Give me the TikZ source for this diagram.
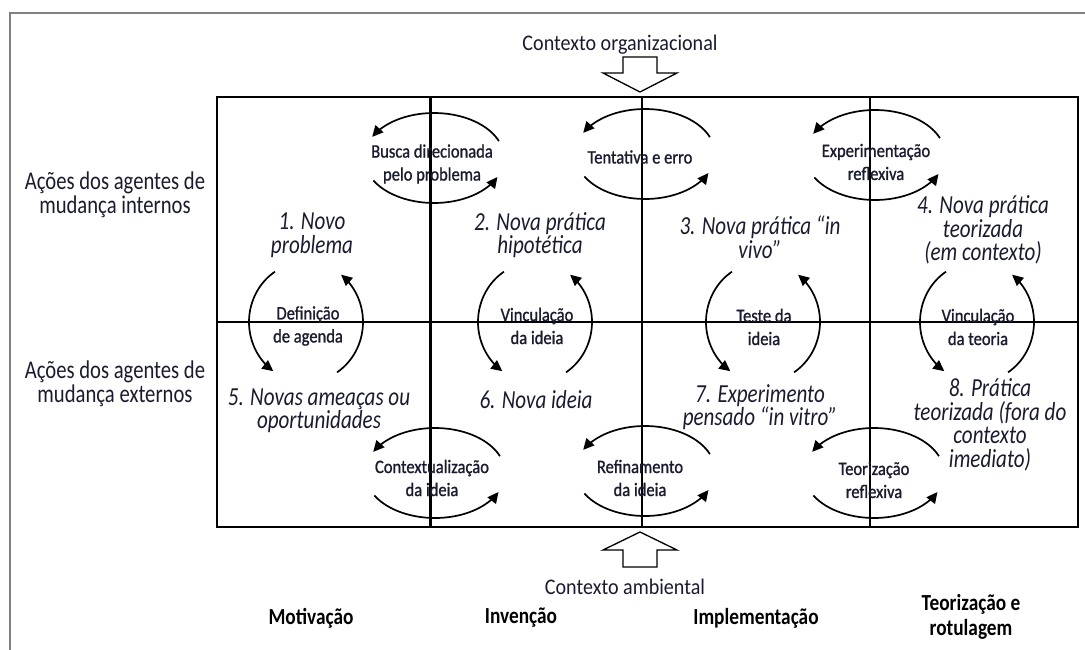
\documentclass[tikz,border=0pt]{standalone}
\usepackage{fontspec}
\setmainfont{Carlito}
\newfontfamily\statefont[FakeStretch=0.81]{Carlito}
\newfontfamily\rowfont[FakeStretch=0.81]{Carlito}
\newfontfamily\ctxfont[FakeStretch=0.9]{Carlito}
\newfontfamily\phasefont[FakeStretch=0.84]{Carlito}
\newfontfamily\labelfont[FakeStretch=0.87,FakeBold=1.1]{Carlito}
\usetikzlibrary{arrows.meta}
\definecolor{ink}{HTML}{1B1B2F}
\definecolor{framegray}{HTML}{808080}

\tikzset{
  state/.style={font=\statefont\itshape\fontsize{26}{23.5}\selectfont, text=ink, align=center, inner sep=0pt},
  steplabel/.style={font=\labelfont\fontsize{19}{23}\selectfont, text=ink, align=center, inner sep=0pt},
  rowlabel/.style={font=\rowfont\fontsize{25.5}{24}\selectfont, text=ink, align=center, inner sep=0pt},
  ctxlabel/.style={font=\ctxfont\fontsize{22.3}{22}\selectfont, text=ink, inner sep=0pt},
  phase/.style={font=\phasefont\bfseries\fontsize{23}{25}\selectfont, text=black, align=center, inner sep=0pt},
  cyclearrow/.style={line width=1.7pt, -{Triangle[length=11pt,width=10.5pt]}},
  blockarrow/.style={draw=black, line width=1.3pt, fill=white, line join=miter},
  gridline/.style={draw=black, line width=#1},
}

% horizontal cycle (two arcs across a vertical grid line)
\newcommand{\hcycle}[2]{%
  \draw[cyclearrow] plot[domain=22:152,samples=40] ({#1+70*cos(\x)},{#2-45*sin(\x)});
  \draw[cyclearrow] plot[domain=210:335,samples=40] ({#1+70*cos(\x)},{#2-45*sin(\x)});
}
% vertical cycle (two arcs across the horizontal grid line)
\newcommand{\vcycle}[2]{%
  \draw[cyclearrow] plot[domain=123:235,samples=40] ({#1+57*cos(\x)},{#2-60*sin(\x)});
  \draw[cyclearrow] plot[domain=-57:52,samples=40] ({#1+57*cos(\x)},{#2-60*sin(\x)});
}

\begin{document}
\begin{tikzpicture}[x=1pt,y=-1pt]
\useasboundingbox (0,0) rectangle (1085,650);

% outer frame
\draw[framegray, line width=1.5pt] (10,650) -- (10,13) -- (1085,13);

% grid
\draw[gridline=2.3pt] (217,97) rectangle (1078,527);
\draw[gridline=2pt] (217,322) -- (1078,322);
\draw[gridline=3pt] (430,97) -- (430,527);
\draw[gridline=1.8pt] (642,97) -- (642,527);
\draw[gridline=2.7pt] (870,97) -- (870,527);

% context arrows
\draw[blockarrow] (623,57) -- (657,57) -- (657,73) -- (677,73) -- (640,92) -- (603,73) -- (623,73) -- cycle;
\draw[blockarrow] (640,532) -- (677,550) -- (657,550) -- (657,567) -- (623,567) -- (623,550) -- (603,550) -- cycle;

\node[ctxlabel] (orgctx) at (620,45) {Contexto organizacional};
\node[ctxlabel] (envctx) at (625,587) {Contexto ambiental};

% row labels
\node[rowlabel] (internal) at (115,195) {Ações dos agentes de\\mudança internos};
\node[rowlabel] (external) at (115,384) {Ações dos agentes de\\mudança externos};

% phase labels
\node[phase] (motiv) at (311,618) {Motivação};
\node[phase] (invent) at (521,618) {Invenção};
\node[phase] (implem) at (756,618) {Implementação};
\node[phase] (theory) at (971,617) {Teorização e\\rotulagem};

% cycles
\hcycle{434}{158}
\hcycle{645}{154}
\hcycle{875}{155}
\hcycle{435}{473}
\hcycle{645}{471}
\hcycle{874}{473}
\vcycle{306}{322}
\vcycle{535}{322}
\vcycle{763}{322}
\vcycle{977}{322}

% states
\node[state] (s1) at (312,235) {1. Novo\\problema};
\node[state] (s2) at (540,235) {2. Nova prática\\hipotética};
\node[state] (s3) at (760,237) {3. Nova prática “in\\vivo”};
\node[state] (s4) at (983,230) {4. Nova prática\\teorizada\\(em contexto)};
\node[state] (s5) at (319,411) {5. Novas ameaças ou\\oportunidades};
\node[state] (s6) at (536,400) {6. Nova ideia};
\node[state] (s7) at (760,407) {7. Experimento\\pensado “in vitro”};
\node[state] (s8) at (990,425) {8. Prática\\teorizada (fora do\\contexto\\imediato)};

% cycle labels
\node[steplabel] (busca) at (432,164) {Busca direcionada\\pelo problema};
\node[steplabel] (tent) at (640,157) {Tentativa e erro};
\node[steplabel] (expref) at (876,162) {Experimentação\\reflexiva};
\node[steplabel] (agenda) at (308,326) {Definição\\de agenda};
\node[steplabel] (vincid) at (537,326) {Vinculação\\da ideia};
\node[steplabel] (teste) at (764,327) {Teste da\\ideia};
\node[steplabel] (vincteo) at (978,327) {Vinculação\\da teoria};
\node[steplabel] (contx) at (432,478) {Contextualização\\da ideia};
\node[steplabel] (refin) at (640,478) {Refinamento\\da ideia};
\node[steplabel] (teoref) at (874,480) {Teorização\\reflexiva};
\end{tikzpicture}
\end{document}
